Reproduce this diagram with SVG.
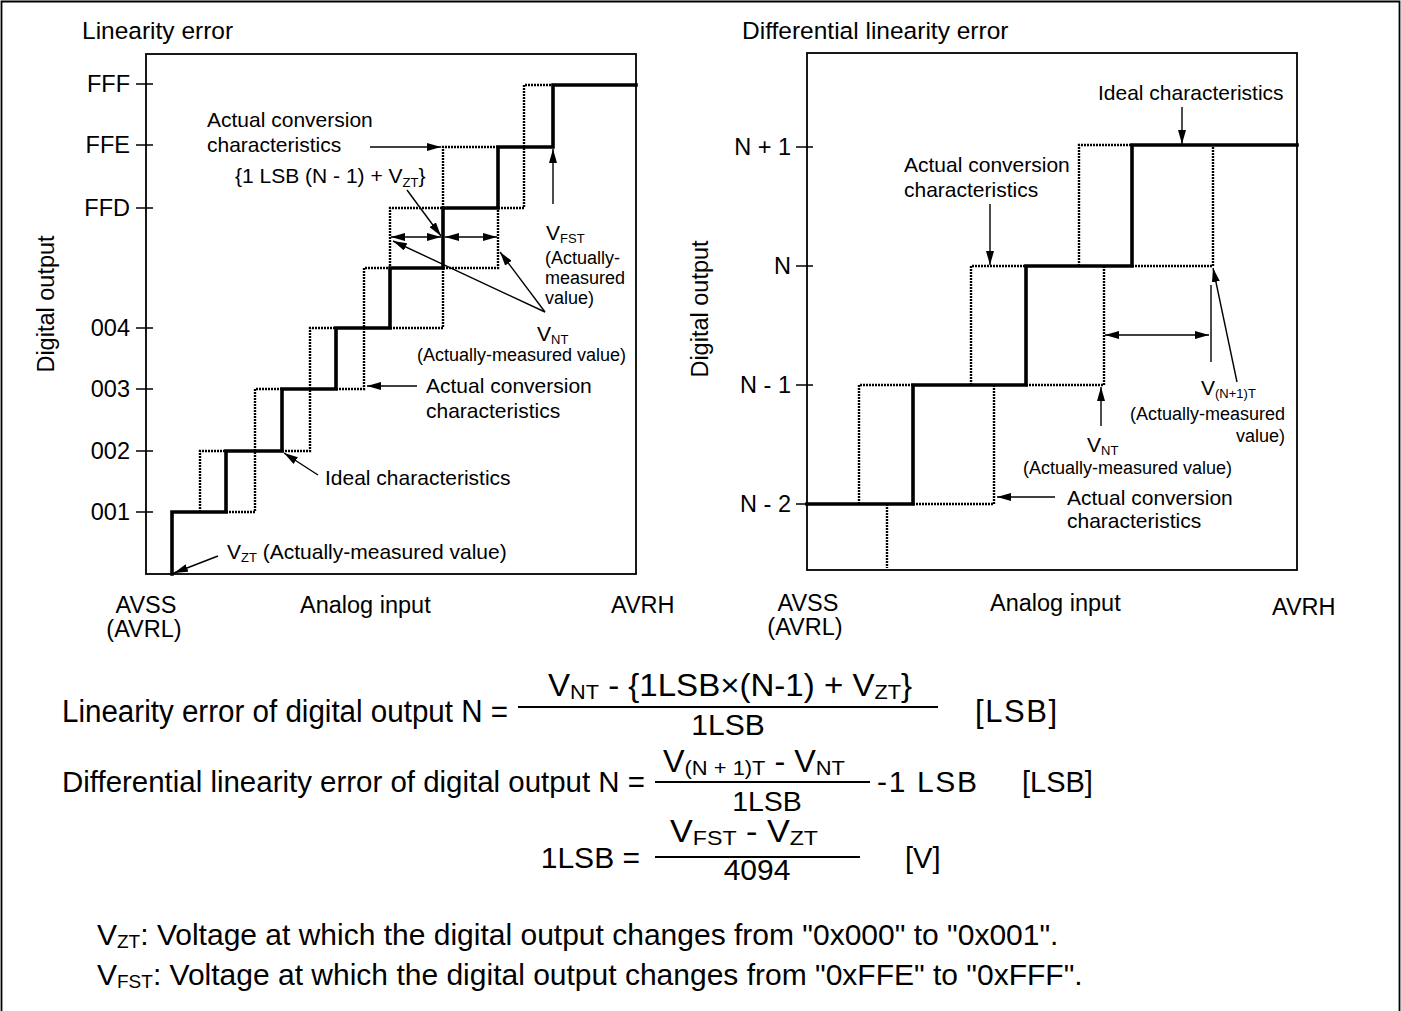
<svg xmlns="http://www.w3.org/2000/svg" width="1401" height="1011" viewBox="0 0 1401 1011">
<style>
text{font-family:"Liberation Sans",Arial,Helvetica,sans-serif;fill:#000}
.ttl{font-size:24.5px}
.lbl{font-size:23.5px}
.ann{font-size:21px}
.sm{font-size:18px}
.sub{font-size:13px}
.box{fill:none;stroke:#000;stroke-width:1.8}
.tick{fill:none;stroke:#000;stroke-width:1.6}
.ideal{fill:none;stroke:#000;stroke-width:3.6;stroke-linejoin:miter;stroke-linecap:square}
.dot{fill:none;stroke:#000;stroke-width:2.4;stroke-dasharray:2 1}
.arr{fill:none;stroke:#000;stroke-width:1.4}
.frac{fill:none;stroke:#000;stroke-width:2}
</style>
<defs>
<marker id="ah" viewBox="0 0 14 8" refX="14" refY="4" markerWidth="14" markerHeight="8" orient="auto-start-reverse" markerUnits="userSpaceOnUse">
<path d="M0,0 L14,4 L0,8 z" fill="#000"/>
</marker>
</defs>

<g id="frame">
<path d="M1.5,1011 V1.5 H1399.5 V1011" class="box"/>
</g>

<!-- Left chart -->
<g id="linearity-chart">
<text class="ttl" x="82" y="39">Linearity error</text>
<rect x="146" y="54" width="490" height="520" class="box"/>
<path class="tick" d="M136,84H153M136,145H153M136,208H153M136,328H153M136,389H153M136,451H153M136,512H153"/>
<g class="lbl" text-anchor="end">
<text x="130" y="92.4">FFF</text>
<text x="130" y="153.4">FFE</text>
<text x="130" y="216.4">FFD</text>
<text x="130" y="336.4">004</text>
<text x="130" y="397.4">003</text>
<text x="130" y="459.4">002</text>
<text x="130" y="520.4">001</text>
</g>
<text class="lbl" text-anchor="middle" transform="translate(54,304) rotate(-90)">Digital output</text>
<text class="lbl" x="146" y="613" text-anchor="middle">AVSS</text>
<text class="lbl" x="144" y="637" text-anchor="middle">(AVRL)</text>
<text class="lbl" x="300" y="613">Analog input</text>
<text class="lbl" x="611" y="613">AVRH</text>
<g id="left-dotted">
<path class="dot" d="M200,512V451H226M226,512H255V389H282M282,451H310V328H336M336,389H364V268H390V208H443M443,268V328H390M443,268H498V208M443,208V147H498M498,208H524V85H553"/>
</g>
<g id="left-ideal">
<path class="ideal" d="M172,574V512H226V451H282V389H336V328H390V268H443V208H498V147H553V85H636"/>
</g>
</g>

<!-- Right chart -->
<g id="differential-chart">
<text class="ttl" x="742" y="39">Differential linearity error</text>
<rect x="807" y="53" width="490" height="517" class="box"/>
<path class="tick" d="M796,147H813M796,266H813M796,385H813M796,504H813"/>
<g class="lbl" text-anchor="end">
<text x="791" y="155.4">N + 1</text>
<text x="791" y="274.4">N</text>
<text x="791" y="393.4">N - 1</text>
<text x="791" y="512.4">N - 2</text>
</g>
<text class="lbl" text-anchor="middle" transform="translate(708,309) rotate(-90)">Digital output</text>
<text class="lbl" x="808" y="611" text-anchor="middle">AVSS</text>
<text class="lbl" x="805" y="635" text-anchor="middle">(AVRL)</text>
<text class="lbl" x="990" y="611">Analog input</text>
<text class="lbl" x="1272" y="615">AVRH</text>
<g id="right-dotted">
<path class="dot" d="M859,504V385H913M887,504V568M913,504H994V385M971,385V266H1026M1026,385H1104V266M1079,266V145H1132M1132,266H1213V145"/>
</g>
<g id="right-ideal">
<path class="ideal" d="M807,504H913V385H1026V266H1132V145H1297"/>
</g>
</g>

<g id="connectors">
<!-- left -->
<line class="arr" x1="370" y1="147" x2="441" y2="147" marker-end="url(#ah)"/>
<line class="arr" x1="407" y1="190" x2="441" y2="236" marker-end="url(#ah)"/>
<line class="arr" x1="391" y1="237" x2="441" y2="237" marker-start="url(#ah)" marker-end="url(#ah)"/>
<line class="arr" x1="445" y1="237" x2="497" y2="237" marker-start="url(#ah)" marker-end="url(#ah)"/>
<line class="arr" x1="553" y1="204" x2="553" y2="149" marker-end="url(#ah)"/>
<line class="arr" x1="545" y1="312" x2="393" y2="241" marker-end="url(#ah)"/>
<line class="arr" x1="545" y1="312" x2="500" y2="252" marker-end="url(#ah)"/>
<line class="arr" x1="417" y1="386" x2="367" y2="386" marker-end="url(#ah)"/>
<line class="arr" x1="318" y1="475" x2="284" y2="453" marker-end="url(#ah)"/>
<line class="arr" x1="218" y1="556" x2="174" y2="573" marker-end="url(#ah)"/>
<!-- right -->
<line class="arr" x1="1182" y1="107" x2="1182" y2="144" marker-end="url(#ah)"/>
<line class="arr" x1="990" y1="204" x2="990" y2="265" marker-end="url(#ah)"/>
<line class="arr" x1="1105" y1="335" x2="1209" y2="335" marker-start="url(#ah)" marker-end="url(#ah)"/>
<line class="arr" x1="1211" y1="285" x2="1211" y2="362"/>
<line class="arr" x1="1237" y1="382" x2="1213" y2="268" marker-end="url(#ah)"/>
<line class="arr" x1="1101" y1="426" x2="1101" y2="387" marker-end="url(#ah)"/>
<line class="arr" x1="1055" y1="497" x2="997" y2="497" marker-end="url(#ah)"/>
</g>

<g id="left-labels" class="ann">
<text x="207" y="127">Actual conversion</text>
<text x="207" y="152">characteristics</text>
<text x="235" y="183">{1 LSB (N - 1) + V<tspan class="sub" dy="4">ZT</tspan><tspan dy="-4">}</tspan></text>
<text x="546" y="240">V<tspan class="sub" dy="3">FST</tspan></text>
<text class="sm" x="545" y="264">(Actually-</text>
<text class="sm" x="545" y="284">measured</text>
<text class="sm" x="545" y="304">value)</text>
<text x="537" y="341">V<tspan class="sub" dy="3">NT</tspan></text>
<text class="sm" x="417" y="361">(Actually-measured value)</text>
<text x="426" y="393">Actual conversion</text>
<text x="426" y="418">characteristics</text>
<text x="325" y="485">Ideal characteristics</text>
<text x="227" y="559">V<tspan class="sub" dy="3">ZT</tspan><tspan dy="-3"> (Actually-measured value)</tspan></text>
</g>

<g id="right-labels" class="ann">
<text x="1098" y="100">Ideal characteristics</text>
<text x="904" y="172">Actual conversion</text>
<text x="904" y="197">characteristics</text>
<text x="1201" y="395">V<tspan class="sub" dy="3">(N+1)T</tspan></text>
<text class="sm" x="1285" y="420" text-anchor="end">(Actually-measured</text>
<text class="sm" x="1285" y="442" text-anchor="end">value)</text>
<text x="1087" y="452">V<tspan class="sub" dy="3">NT</tspan></text>
<text class="sm" x="1232" y="474" text-anchor="end">(Actually-measured value)</text>
<text x="1067" y="505">Actual conversion</text>
<text x="1067" y="528">characteristics</text>
</g>

<g id="formulas">
<text x="62" y="722" font-size="31" textLength="446" lengthAdjust="spacingAndGlyphs">Linearity error of digital output N =</text>
<line class="frac" x1="518" y1="707" x2="938" y2="707"/>
<text x="730" y="696" font-size="32" text-anchor="middle" textLength="364" lengthAdjust="spacingAndGlyphs">V<tspan font-size="21" dy="3">NT</tspan><tspan dy="-3"> - {1LSB×(N-1) + V</tspan><tspan font-size="21" dy="3">ZT</tspan><tspan dy="-3">}</tspan></text>
<text x="728" y="735" font-size="30" text-anchor="middle">1LSB</text>
<text x="975" y="722" font-size="31" textLength="82">[LSB]</text>

<text x="62" y="792" font-size="30" textLength="583" lengthAdjust="spacingAndGlyphs">Differential linearity error of digital output N =</text>
<line class="frac" x1="655" y1="782" x2="870" y2="782"/>
<text x="754" y="772" font-size="31" text-anchor="middle" textLength="182" lengthAdjust="spacingAndGlyphs">V<tspan font-size="21" dy="3">(N + 1)T</tspan><tspan dy="-3"> - V</tspan><tspan font-size="21" dy="3">NT</tspan></text>
<text x="767" y="811" font-size="28.5" text-anchor="middle">1LSB</text>
<text x="877" y="792" font-size="30" textLength="100">-1 LSB</text>
<text x="1022" y="792" font-size="29">[LSB]</text>

<text x="640" y="868" font-size="30" text-anchor="end">1LSB =</text>
<line class="frac" x1="655" y1="857" x2="860" y2="857"/>
<text x="744" y="842" font-size="31" text-anchor="middle" textLength="148" lengthAdjust="spacingAndGlyphs">V<tspan font-size="21" dy="3">FST</tspan><tspan dy="-3"> - V</tspan><tspan font-size="21" dy="3">ZT</tspan></text>
<text x="757" y="880" font-size="30" text-anchor="middle">4094</text>
<text x="905" y="868" font-size="29">[V]</text>
</g>

<g id="notes" font-size="30">
<text x="97" y="945">V<tspan font-size="19" dy="3">ZT</tspan><tspan dy="-3">: Voltage at which the digital output changes from "0x000" to "0x001".</tspan></text>
<text x="97" y="985">V<tspan font-size="19" dy="3">FST</tspan><tspan dy="-3">: Voltage at which the digital output changes from "0xFFE" to "0xFFF".</tspan></text>
</g>
</svg>
